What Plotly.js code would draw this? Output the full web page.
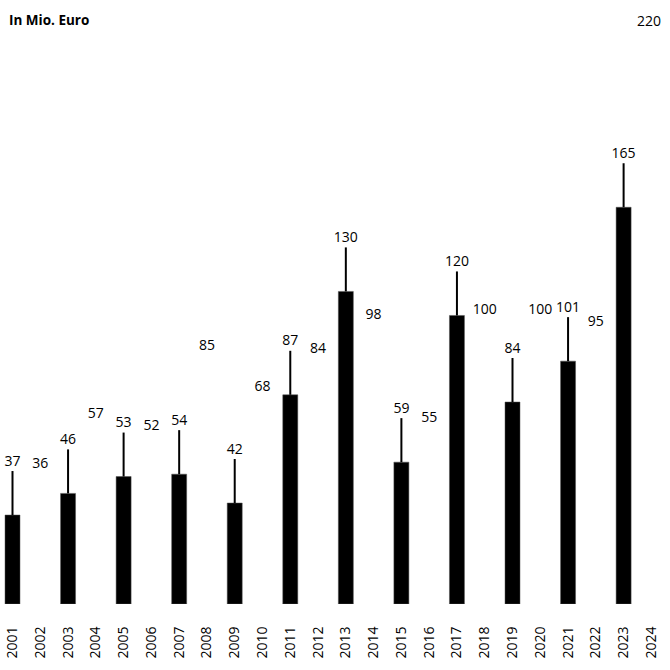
<!DOCTYPE html>
<html>
<head>
<meta charset="utf-8">
<script src="https://cdn.plot.ly/plotly-3.0.1.min.js"></script>
<style>html,body{margin:0;padding:0;background:#fff;}#chart{width:670px;height:670px;}</style>
</head>
<body>
<div id="chart"></div>
<script>
// Data
const years = ["2001","2002","2003","2004","2005","2006","2007","2008","2009","2010","2011","2012",
               "2013","2014","2015","2016","2017","2018","2019","2020","2021","2022","2023","2024"];
const oddYears = ["2001","2003","2005","2007","2009","2011","2013","2015","2017","2019","2021","2023"];
const oddValues = [37, 46, 53, 54, 42, 87, 130, 59, 120, 84, 101, 165];
const evenYears = ["2002","2004","2006","2008","2010","2012","2014","2016","2018","2020","2022"];
const evenValues = [36, 57, 52, 85, 68, 84, 98, 55, 100, 100, 95];
const unitLabel = "In Mio. Euro";
const axisMaxLabel = "220";

const STEM = 18.3;     // stem length in data units
const LABEL_OFF = 22.0; // label offset in data units
const FONT = "'Open Sans', 'Noto Sans', sans-serif";

const traces = [
  {
    type: 'bar', x: oddYears, y: oddValues,
    marker: {color: '#000', line: {color: '#555', width: 0.5}},
    width: 0.54,
    error_y: {type: 'data', symmetric: false, array: oddValues.map(() => STEM),
              arrayminus: oddValues.map(() => 0), color: '#000', thickness: 2, width: 0},
    hoverinfo: 'skip'
  },
  {
    type: 'scatter', mode: 'text', x: oddYears, y: oddValues.map(v => v + LABEL_OFF),
    text: oddValues.map(String), textposition: 'middle center',
    textfont: {family: FONT, size: 14, color: '#000'}, hoverinfo: 'skip'
  },
  {
    type: 'scatter', mode: 'text', x: evenYears, y: evenValues.map(v => v + LABEL_OFF),
    text: evenValues.map(String), textposition: 'middle center',
    textfont: {family: FONT, size: 14, color: '#000'}, hoverinfo: 'skip'
  }
];

const layout = {
  width: 670, height: 670,
  margin: {l: 0, r: 0, t: 75, b: 66},
  paper_bgcolor: '#fff', plot_bgcolor: '#fff',
  showlegend: false,
  barmode: 'overlay',
  xaxis: {
    type: 'category', categoryarray: years, categoryorder: 'array',
    range: [-0.45, 23.67],
    tickangle: -90, ticks: 'outside', ticklen: 16, tickcolor: 'rgba(0,0,0,0)',
    tickfont: {family: FONT, size: 14, color: '#000'},
    showgrid: false, zeroline: false, showline: false, fixedrange: true
  },
  yaxis: {
    range: [0, 220], visible: false, showgrid: false, zeroline: false, fixedrange: true
  },
  annotations: [
    {xref: 'paper', yref: 'paper', x: 0.01, y: 1, yshift: 55, xanchor: 'left', yanchor: 'middle',
     text: '<b>' + unitLabel + '</b>', showarrow: false,
     font: {family: FONT, size: 13.5, color: '#000'}},
    {xref: 'paper', yref: 'paper', x: 0.989, y: 1, yshift: 55, xanchor: 'right', yanchor: 'middle',
     text: axisMaxLabel, showarrow: false,
     font: {family: FONT, size: 14, color: '#000'}}
  ]
};

Plotly.newPlot('chart', traces, layout, {displayModeBar: false, staticPlot: true});
</script>
</body>
</html>
